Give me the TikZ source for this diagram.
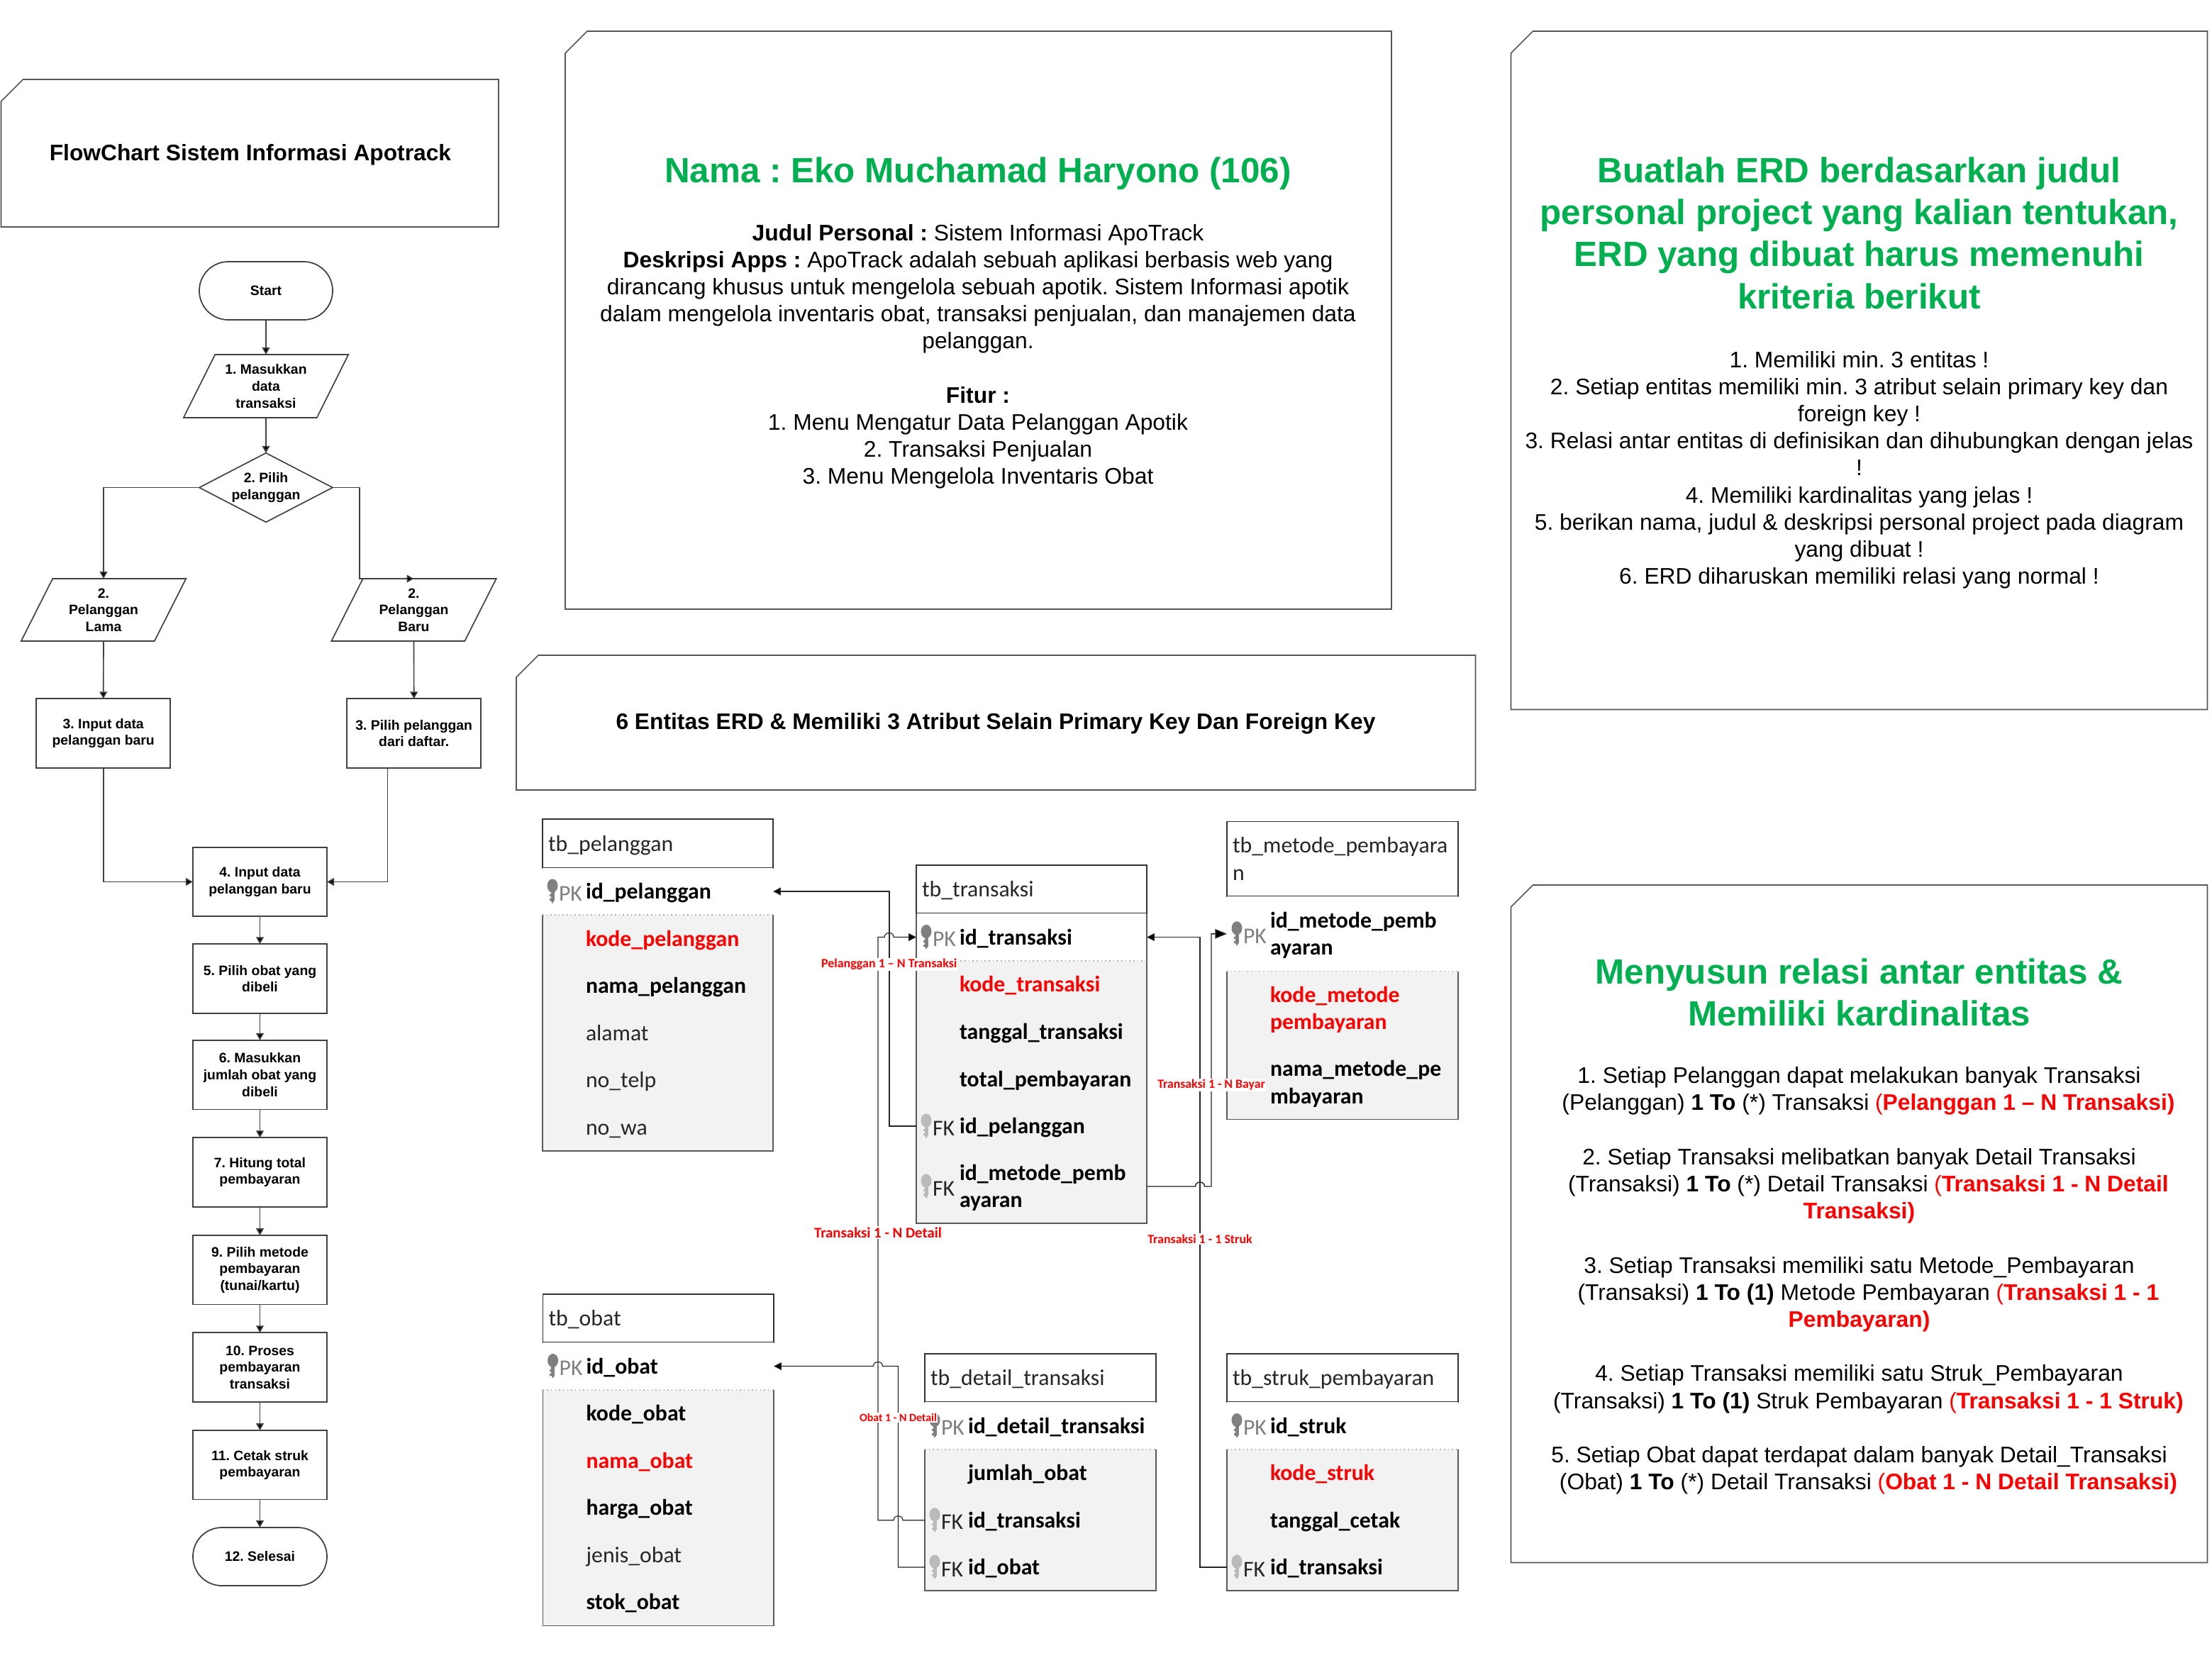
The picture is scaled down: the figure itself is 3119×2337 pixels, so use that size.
\documentclass[tikz,border=0pt]{standalone}
\usepackage{fontspec}
\setmainfont{Liberation Sans}
\newfontfamily\carl{Carlito}
\usetikzlibrary{arrows.meta,calc}
\def\pxu{0.24pt}
\frenchspacing
\definecolor{gtitle}{HTML}{00B050}
\definecolor{rowgrey}{HTML}{F2F2F2}
\definecolor{linegrey}{HTML}{555555}
\tikzset{
  flowtxt/.style={font=\fontsize{4.65pt}{5.66pt}\selectfont\bfseries,align=center,inner sep=0pt,outer sep=0pt,text=black},
  fbox/.style={flowtxt,draw=black!75,line width=0.42pt,minimum width=189*\pxu,minimum height=97.5*\pxu},
  fterm/.style={fbox,rounded corners=9.8pt,minimum height=82*\pxu},
  fghost/.style={flowtxt},
  fline/.style={draw=black!75,line width=0.4pt},
  farrow/.style={fline,-{Triangle[length=2.4pt,width=2.6pt,fill=black]}},
  panelghost/.style={inner sep=0pt,outer sep=0pt},
  panelline/.style={draw=linegrey,line width=0.4pt},
  ptitle/.style={font=\fontsize{11.85pt}{14.23pt}\selectfont\bfseries,text=gtitle,align=center,inner sep=0pt},
  pbody/.style={font=\fontsize{7.63pt}{9.17pt}\selectfont,align=center,inner sep=0pt,text=black},
  pbold/.style={font=\fontsize{7.62pt}{9.17pt}\selectfont\bfseries,align=center,inner sep=0pt,text=black},
  cellbox/.style={inner sep=0pt,outer sep=0pt,anchor=north west},
  cwhite/.style={fill=white},
  cgrey/.style={fill=rowgrey},
  chead/.style={fill=white,draw=black!80,line width=0.36pt},
  rowbase/.style={anchor=west,inner sep=0pt,outer sep=0pt,align=left,font=\carl\fontsize{7.62pt}{9.24pt}\selectfont},
  rb/.style={rowbase,font=\carl\fontsize{7.62pt}{9.24pt}\selectfont\bfseries,text=black},
  rr/.style={rowbase,font=\carl\fontsize{7.62pt}{9.24pt}\selectfont\bfseries,text=red},
  rn/.style={rowbase,text=black!85},
  rfr/.style={draw=black!65,line width=0.36pt},
  rsep/.style={draw=black!30,line width=0.36pt,densely dotted},
  conn/.style={draw=black!85,line width=0.28pt,-{Triangle[length=2.6pt,width=2.6pt,fill=black]}},
  connthick/.style={conn,line width=0.42pt},
  connbig/.style={conn,line width=0.34pt,-{Triangle[length=4pt,width=3.2pt,fill=black]}},
  rlab/.style={fill=white,inner sep=0.3pt,outer sep=0pt,text=red},
}
\newcommand{\panelbox}[5]{%
  \node[panelghost,anchor=north west,minimum width={(#4-#2)*\pxu},minimum height={(#5-#3)*\pxu}] (#1) at (#2,#3) {};
  \draw[panelline] ($(#1.north west)+(31,0)$) -- (#1.north east) -- (#1.south east) -- (#1.south west) -- ($(#1.north west)+(0,31)$) -- cycle;}
\newcommand{\paragram}[1]{%
  \draw[fline] ($(#1.south west)+(-22.2,0)$) -- ($(#1.north west)+(22.2,0)$) -- ($(#1.north east)+(22.2,0)$) -- ($(#1.south east)+(-22.2,0)$) -- cycle;}
\newcommand{\ehead}[6]{%
  \node[cellbox,chead,minimum width={(#4-#2)*\pxu},minimum height={(#5-#3)*\pxu}] (#1) at (#2,#3) {};
  \node[rn,text=black!85] (#1-t) at ($(#1.west)+(8,3)$) {#6};}
\newcommand{\erow}[8]{%
  \node[cellbox,#6,minimum width={(#4-#2)*\pxu},minimum height={(#5-#3)*\pxu}] (#1) at (#2,#3) {};
  \node[#7] (#1-t) at ($(#1.west)+(61,3)$) {#8};}
\newcommand{\rowframe}[2]{%
  \draw[rfr] (#1.north west) -- (#2.south west) -- (#2.south east) -- (#1.north east);
  \draw[rsep] (#1.north west) -- (#1.north east);}
\newcommand{\keyshape}[2]{%
  \begin{scope}[shift={($(#1.west)+(14,0)$)}]
    \fill[#2] (0,-8) ellipse [x radius=1.8pt,y radius=2.3pt];
    \fill[#2] (-2.5,-3) rectangle (2.5,13);
    \fill[#2] (-4.2,4) rectangle (2.5,7);
    \fill[#2] (-4.2,10) rectangle (2.5,13);
    \fill[#2] (-2.5,13) -- (2.5,13) -- (0,17) -- cycle;
  \end{scope}}
\newcommand{\ekey}[3]{%
  \keyshape{#1}{#2}
  \node[rowbase,text=#2,anchor=west] (#1-k) at ($(#1.west)+(23,3)$) {#3};}
\newcommand{\ekeyf}[1]{%
  \keyshape{#1}{black!27}
  \node[rowbase,text=black!85,anchor=west] (#1-k) at ($(#1.west)+(23,3)$) {FK};}
\newcommand{\hopl}[1]{-- ($(#1)+(6.5,0)$) .. controls ($(#1)+(6.5,-8)$) and ($(#1)+(-6.5,-8)$) .. ($(#1)+(-6.5,0)$)}
\newcommand{\hopr}[1]{-- ($(#1)+(-6.5,0)$) .. controls ($(#1)+(-6.5,-8)$) and ($(#1)+(6.5,-8)$) .. ($(#1)+(6.5,0)$)}
\newcommand{\redt}[1]{\textcolor{red}{(\textbf{#1})}}
\newcommand{\redb}[1]{\textcolor{red}{\textbf{#1}}}
\begin{document}
\begin{tikzpicture}[x=0.24pt,y=-0.24pt]
\useasboundingbox (0,0) rectangle (3119,2337);
\fill[white] (0,0) rectangle (3119,2337);
%--- panels
\panelbox{pflow}{1.5}{112}{703}{320}
\node[pbold] (pflow-t) at (353,218) {FlowChart Sistem Informasi Apotrack};
\panelbox{pname}{797}{44}{1962}{859}
\node[ptitle,anchor=center] (pname-h) at (1379,245) {Nama : Eko Muchamad Haryono (106)};
\node[pbody,anchor=north] (pname-t) at (1379,311.5) {\strut\textbf{Judul Personal :} Sistem Informasi ApoTrack\\
\textbf{Deskripsi Apps :} ApoTrack adalah sebuah aplikasi berbasis web yang\\
dirancang khusus untuk mengelola sebuah apotik. Sistem Informasi apotik\\
dalam mengelola inventaris obat, transaksi penjualan, dan manajemen data\\
pelanggan.\\
\mbox{}\\
\textbf{Fitur :}\\
1. Menu Mengatur Data Pelanggan Apotik\\
2. Transaksi Penjualan\\
3. Menu Mengelola Inventaris Obat};
\panelbox{pbuat}{2130.5}{44}{3112.5}{1000.5}
\node[ptitle,anchor=north] (pbuat-h) at (2621.5,215) {\strut Buatlah ERD berdasarkan judul\\
personal project yang kalian tentukan,\\
ERD yang dibuat harus memenuhi\\
kriteria berikut};
\node[pbody,anchor=north] (pbuat-t) at (2621.5,490.5) {\strut 1. Memiliki min. 3 entitas !\\
2. Setiap entitas memiliki min. 3 atribut selain primary key dan\\
foreign key !\\
3. Relasi antar entitas di definisikan dan dihubungkan dengan jelas\\
!\\
4. Memiliki kardinalitas yang jelas !\\
5. berikan nama, judul \& deskripsi personal project pada diagram\\
yang dibuat !\\
6. ERD diharuskan memiliki relasi yang normal !};
\panelbox{pent}{728}{924}{2080.5}{1114}
\node[pbold] (pent-t) at (1404,1020) {6 Entitas ERD \& Memiliki 3 Atribut Selain Primary Key Dan Foreign Key};
\panelbox{prel}{2130.5}{1248}{3112.5}{2203.5}
\node[ptitle,anchor=north] (prel-h) at (2621.5,1345) {\strut Menyusun relasi antar entitas \&\\
Memiliki kardinalitas};
\node[pbody,anchor=north] (prel-t) at (2621.5,1500) {\strut 1. Setiap Pelanggan dapat melakukan banyak Transaksi\\
\hspace*{6.2pt}(Pelanggan) \textbf{1 To} (*) Transaksi \textcolor{red}{(}\redb{Pelanggan 1 – N Transaksi)}\\
\mbox{}\\
2. Setiap Transaksi melibatkan banyak Detail Transaksi\\
\hspace*{6.2pt}(Transaksi) \textbf{1 To} (*) Detail Transaksi \textcolor{red}{(}\redb{Transaksi 1 - N Detail}\\
\redb{Transaksi)}\\
\mbox{}\\
3. Setiap Transaksi memiliki satu Metode\_Pembayaran\\
\hspace*{6.2pt}(Transaksi) \textbf{1 To (1)} Metode Pembayaran \textcolor{red}{(}\redb{Transaksi 1 - 1}\\
\redb{Pembayaran)}\\
\mbox{}\\
4. Setiap Transaksi memiliki satu Struk\_Pembayaran\\
\hspace*{6.2pt}(Transaksi) \textbf{1 To (1)} Struk Pembayaran \textcolor{red}{(}\redb{Transaksi 1 - 1 Struk)}\\
\mbox{}\\
5. Setiap Obat dapat terdapat dalam banyak Detail\_Transaksi\\
\hspace*{6.2pt}(Obat) \textbf{1 To} (*) Detail Transaksi \textcolor{red}{(}\redb{Obat 1 - N Detail Transaksi)}};
%--- flowchart nodes
\node[fterm,minimum width=188*\pxu] (fstart) at (375,410) {Start};
\node[fghost,minimum width=188*\pxu,minimum height=89*\pxu] (f1) at (375,544.5) {1. Masukkan\\data\\transaksi};
\paragram{f1}
\node[fghost,minimum width=188*\pxu,minimum height=97.5*\pxu] (fd) at (375,687.5) {2. Pilih\\pelanggan};
\draw[fline] (fd.north) -- (fd.east) -- (fd.south) -- (fd.west) -- cycle;
\node[fghost,minimum width=188*\pxu,minimum height=88*\pxu] (fl) at (146,860) {2.\\Pelanggan\\Lama};
\paragram{fl}
\node[fghost,minimum width=188*\pxu,minimum height=88*\pxu] (fr) at (583.5,860) {2.\\Pelanggan\\Baru};
\paragram{fr}
\node[fbox] (f3l) at (145.7,1034) {3. Input data\\pelanggan baru};
\node[fbox] (f3r) at (583.7,1034) {3. Pilih pelanggan\\dari daftar.};
\node[fbox] (f4) at (366.5,1243.5) {4. Input data\\pelanggan baru};
\node[fbox] (f5) at (366.5,1380) {5. Pilih obat yang\\dibeli};
\node[fbox] (f6) at (366.5,1515.6) {6. Masukkan\\jumlah obat yang\\dibeli};
\node[fbox] (f7) at (366.5,1653) {7. Hitung total\\pembayaran};
\node[fbox] (f9) at (366.5,1790.8) {9. Pilih metode\\pembayaran\\(tunai/kartu)};
\node[fbox] (f10) at (366.5,1928) {10. Proses\\pembayaran\\transaksi};
\node[fbox] (f11) at (366.5,2065.8) {11. Cetak struk\\pembayaran};
\node[fterm] (fend) at (366.5,2195) {12. Selesai};
%--- flowchart connectors
\coordinate (fdr) at (507,816);
\coordinate (f3rout) at (546.4,1083);
\draw[farrow] (fstart) -- (f1);
\draw[farrow] (f1) -- (fd.north);
\draw[farrow] (fd.west) -| (fl.north);
\draw[farrow] (fd.east) -| (fdr) -- (fr.north);
\draw[farrow] (fl.south) -- (f3l.north);
\draw[farrow] (fr.south) -- (f3r.north);
\draw[farrow] (f3l.south) |- (f4.west);
\draw[farrow] (f3rout) |- (f4.east);
\foreach \a/\b in {f4/f5,f5/f6,f6/f7,f7/f9,f9/f10,f10/f11,f11/fend}{\draw[farrow] (\a) -- (\b);}
%--- tb_pelanggan
\ehead{pl}{765}{1155}{1090}{1224}{\strut tb\_pelanggan}
\erow{pl-pk}{765}{1224}{1090}{1290}{cwhite}{rb}{\strut id\_pelanggan}
\erow{pl-a}{765}{1290}{1090}{1357}{cgrey}{rr}{\strut kode\_pelanggan}
\erow{pl-b}{765}{1357}{1090}{1423}{cgrey}{rb}{\strut nama\_pelanggan}
\erow{pl-c}{765}{1423}{1090}{1490}{cgrey}{rn}{\strut alamat}
\erow{pl-d}{765}{1490}{1090}{1556}{cgrey}{rn}{\strut no\_telp}
\erow{pl-e}{765}{1556}{1090}{1623}{cgrey}{rn}{\strut no\_wa}
\rowframe{pl-a}{pl-e}
\ekey{pl-pk}{black!50}{PK}
%--- tb_transaksi
\ehead{tr}{1292}{1220}{1617}{1288}{\strut tb\_transaksi}
\erow{tr-pk}{1292}{1288}{1617}{1355}{cwhite}{rb}{\strut id\_transaksi}
\draw[rfr] (tr-pk.north west) -- (tr-pk.south west) (tr-pk.north east) -- (tr-pk.south east);
\erow{tr-a}{1292}{1355}{1617}{1421}{cgrey}{rr}{\strut kode\_transaksi}
\erow{tr-b}{1292}{1421}{1617}{1488}{cgrey}{rb}{\strut tanggal\_transaksi}
\erow{tr-c}{1292}{1488}{1617}{1555}{cgrey}{rb}{\strut total\_pembayaran}
\erow{tr-fa}{1292}{1555}{1617}{1621}{cgrey}{rb}{\strut id\_pelanggan}
\erow{tr-fb}{1292}{1621}{1617}{1725}{cgrey}{rb}{\strut id\_metode\_pemb\\\strut ayaran}
\rowframe{tr-a}{tr-fb}
\ekey{tr-pk}{black!50}{PK}
\ekeyf{tr-fa}
\ekeyf{tr-fb}
%--- tb_metode
\ehead{mt}{1730}{1158.6}{2056}{1264}{\strut tb\_metode\_pembayara\\\strut n}
\erow{mt-pk}{1730}{1264}{2056}{1369.6}{cwhite}{rb}{\strut id\_metode\_pemb\\\strut ayaran}
\erow{mt-a}{1730}{1369.6}{2056}{1474}{cgrey}{rr}{\strut kode\_metode\\\strut pembayaran}
\erow{mt-b}{1730}{1474}{2056}{1578.6}{cgrey}{rb}{\strut nama\_metode\_pe\\\strut mbayaran}
\rowframe{mt-a}{mt-b}
\ekey{mt-pk}{black!50}{PK}
%--- tb_obat
\ehead{ob}{765.6}{1825}{1091}{1893}{\strut tb\_obat}
\erow{ob-pk}{765.6}{1893}{1091}{1960}{cwhite}{rb}{\strut id\_obat}
\erow{ob-a}{765.6}{1960}{1091}{2026.5}{cgrey}{rb}{\strut kode\_obat}
\erow{ob-b}{765.6}{2026.5}{1091}{2093}{cgrey}{rr}{\strut nama\_obat}
\erow{ob-c}{765.6}{2093}{1091}{2159.5}{cgrey}{rb}{\strut harga\_obat}
\erow{ob-d}{765.6}{2159.5}{1091}{2226}{cgrey}{rn}{\strut jenis\_obat}
\erow{ob-e}{765.6}{2226}{1091}{2292.5}{cgrey}{rb}{\strut stok\_obat}
\rowframe{ob-a}{ob-e}
\ekey{ob-pk}{black!50}{PK}
%--- tb_detail_transaksi
\ehead{dt}{1304}{1909}{1630}{1977}{\strut tb\_detail\_transaksi}
\erow{dt-pk}{1304}{1977}{1630}{2044}{cwhite}{rb}{\strut id\_detail\_transaksi}
\erow{dt-a}{1304}{2044}{1630}{2110.5}{cgrey}{rb}{\strut jumlah\_obat}
\erow{dt-fa}{1304}{2110.5}{1630}{2177}{cgrey}{rb}{\strut id\_transaksi}
\erow{dt-fb}{1304}{2177}{1630}{2243}{cgrey}{rb}{\strut id\_obat}
\rowframe{dt-a}{dt-fb}
\ekey{dt-pk}{black!50}{PK}
\ekeyf{dt-fa}
\ekeyf{dt-fb}
%--- tb_struk_pembayaran
\ehead{st}{1730}{1909}{2056}{1977}{\strut tb\_struk\_pembayaran}
\erow{st-pk}{1730}{1977}{2056}{2044}{cwhite}{rb}{\strut id\_struk}
\erow{st-a}{1730}{2044}{2056}{2110.5}{cgrey}{rr}{\strut kode\_struk}
\erow{st-b}{1730}{2110.5}{2056}{2177}{cgrey}{rb}{\strut tanggal\_cetak}
\erow{st-fa}{1730}{2177}{2056}{2243}{cgrey}{rb}{\strut id\_transaksi}
\rowframe{st-a}{st-fa}
\ekey{st-pk}{black!50}{PK}
\ekeyf{st-fa}
%--- connectors
\coordinate (xA) at (1253.7,0);
\coordinate (xB) at (1238,0);
\coordinate (xC) at (1266.5,0);
\coordinate (xD) at (1692,0);
\coordinate (xE) at (1708,0);
\coordinate (h1) at (dt-fa.west -| xC);
\coordinate (h2) at (tr-pk.west -| xA);
\coordinate (h3) at (tr-fb.east -| xD);
\coordinate (h4) at (ob-pk.east -| xB);
\draw[connthick] (tr-fa.west) -- (tr-fa.west -| xA) -- (pl-pk.east -| xA) -- (pl-pk.east);
\draw[conn] (dt-fa.west) \hopl{h1} -- (dt-fa.west -| xB) -- (tr-pk.west -| xB) \hopr{h2} -- (tr-pk.west);
\draw[connbig] (tr-fb.east) \hopr{h3} -- (tr-fb.east -| xE) -- (mt-pk.west -| xE) -- (mt-pk.west);
\draw[conn] (st-fa.west) -- (st-fa.west -| xD) -- (tr-pk.east -| xD) -- (tr-pk.east);
\draw[conn] (dt-fb.west) -- (dt-fb.west -| xC) -- (ob-pk.east -| xC) \hopl{h4} -- (ob-pk.east);
%--- relation labels
\node[rlab,font=\carl\fontsize{4.31pt}{5pt}\selectfont\bfseries] (lp) at (1253.7,1360) {Pelanggan 1 – N Transaksi};
\node[rlab,font=\carl\fontsize{5pt}{5.6pt}\selectfont\bfseries] (ld) at (1238,1738) {Transaksi 1 - N Detail};
\node[rlab,font=\carl\fontsize{4.3pt}{5pt}\selectfont\bfseries] (ls) at (1692,1747) {Transaksi 1 - 1 Struk};
\node[rlab,font=\carl\fontsize{4.26pt}{5pt}\selectfont\bfseries] (lb) at (1708,1530) {Transaksi 1 - N Bayar};
\node[rlab,font=\carl\fontsize{3.8pt}{4.4pt}\selectfont\bfseries] (lo) at (1266.5,1999) {Obat 1 - N Detail};
\end{tikzpicture}
\end{document}
